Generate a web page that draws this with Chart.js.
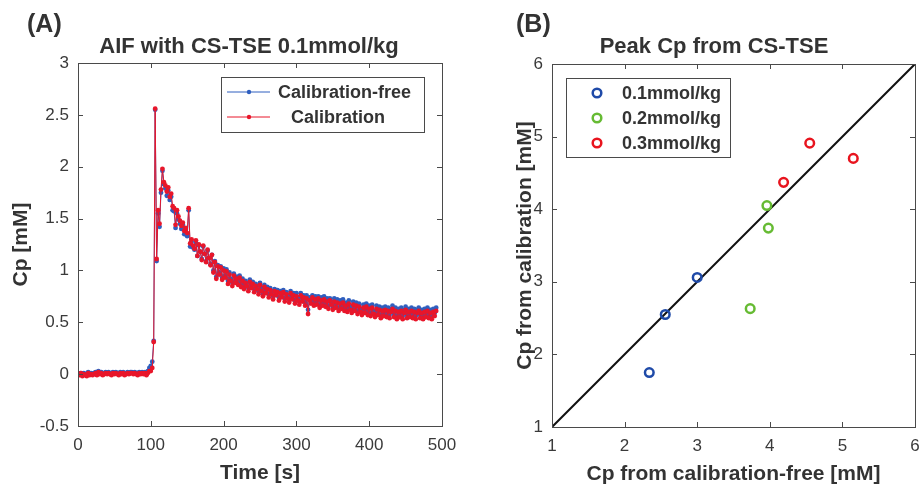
<!DOCTYPE html>
<html><head><meta charset="utf-8">
<script src="https://cdn.jsdelivr.net/npm/chart.js@4"></script>
<style>
html,body{margin:0;padding:0;background:#fff;width:924px;height:495px;overflow:hidden}
canvas{position:absolute;top:0}
#cA{left:0}
#cB{left:470px}
</style></head><body>
<canvas id="cA" width="496" height="495"></canvas>
<canvas id="cB" width="470" height="495"></canvas>
<script>
// ---------- Panel A data (AIF, sampled every 2 s) ----------
const sampleInterval = 2;
const calibration = [
 0.00,-0.01,0.01,-0.02,0.00,-0.01,-0.02,0.01,-0.01,0.00,
 -0.01,0.00,0.01,-0.01,0.02,0.00,0.01,-0.01,0.00,0.01,
 0.00,0.01,0.00,-0.01,0.01,0.00,0.01,0.00,-0.01,0.01,
 0.00,0.01,-0.01,0.00,0.01,0.00,0.01,0.01,0.00,0.01,
 0.00,-0.01,0.01,0.00,0.01,0.00,0.01,-0.01,0.01,0.03,
 0.03,0.06,0.31,2.56,1.11,1.58,1.45,1.78,1.98,1.85,
 1.82,1.76,1.80,1.71,1.74,1.62,1.60,1.44,1.58,1.52,
 1.48,1.43,1.46,1.38,1.41,1.36,1.60,1.26,1.30,1.24,
 1.21,1.29,1.14,1.25,1.18,1.10,1.24,1.16,1.08,1.20,
 1.12,1.05,1.15,0.98,1.08,0.92,1.04,0.96,1.03,0.91,
 1.00,0.93,0.99,0.87,0.96,0.90,0.85,0.95,0.88,0.92,
 0.86,0.93,0.84,0.90,0.82,0.88,0.85,0.80,0.89,0.83,
 0.87,0.79,0.85,0.82,0.77,0.86,0.80,0.75,0.84,0.78,
 0.82,0.74,0.81,0.77,0.72,0.80,0.76,0.79,0.71,0.78,
 0.74,0.79,0.70,0.77,0.73,0.69,0.78,0.72,0.76,0.68,
 0.75,0.71,0.67,0.76,0.70,0.74,0.66,0.73,0.58,0.71,
 0.68,0.74,0.66,0.72,0.67,0.73,0.64,0.71,0.66,0.72,
 0.65,0.70,0.63,0.71,0.67,0.62,0.70,0.64,0.69,0.61,
 0.68,0.63,0.69,0.61,0.66,0.60,0.68,0.62,0.59,0.67,
 0.61,0.66,0.58,0.65,0.60,0.57,0.64,0.59,0.65,0.57,
 0.63,0.56,0.64,0.58,0.55,0.63,0.57,0.62,0.54,0.61,
 0.56,0.62,0.55,0.61,0.54,0.60,0.63,0.55,0.61,0.53,
 0.60,0.55,0.61,0.53,0.59,0.62,0.54,0.60,0.55,0.61,
 0.54,0.60,0.53,0.59,0.61,0.54,0.59,0.53,0.60,0.55,
 0.61,0.54,0.59,0.53,0.60,0.56,0.61
];
const calibrationFree = [
 0.01,0.00,0.01,-0.01,0.01,0.00,-0.01,0.02,0.00,0.01,
 0.00,0.01,0.02,0.00,0.03,0.01,0.02,0.00,0.01,0.02,
 0.01,0.02,0.01,0.00,0.02,0.01,0.02,0.01,0.00,0.02,
 0.01,0.02,0.00,0.01,0.02,0.01,0.02,0.02,0.01,0.02,
 0.01,0.00,0.02,0.01,0.02,0.01,0.02,0.00,0.03,0.06,
 0.08,0.12,0.32,2.55,1.09,1.55,1.42,1.75,1.96,1.83,
 1.79,1.72,1.77,1.68,1.71,1.58,1.57,1.41,1.55,1.49,
 1.45,1.40,1.44,1.35,1.39,1.33,1.58,1.23,1.28,1.22,
 1.20,1.27,1.14,1.24,1.18,1.11,1.23,1.16,1.09,1.19,
 1.12,1.06,1.15,1.00,1.09,0.94,1.05,0.98,1.04,0.93,
 1.02,0.95,1.01,0.90,0.98,0.92,0.88,0.97,0.90,0.94,
 0.89,0.95,0.87,0.92,0.85,0.90,0.88,0.83,0.91,0.86,
 0.89,0.82,0.87,0.85,0.80,0.88,0.83,0.78,0.86,0.81,
 0.84,0.77,0.83,0.80,0.75,0.82,0.79,0.81,0.74,0.80,
 0.77,0.81,0.73,0.79,0.76,0.72,0.80,0.75,0.78,0.71,
 0.78,0.74,0.70,0.78,0.73,0.76,0.69,0.76,0.62,0.74,
 0.71,0.76,0.69,0.75,0.70,0.75,0.67,0.74,0.69,0.75,
 0.68,0.73,0.66,0.73,0.70,0.65,0.73,0.67,0.72,0.64,
 0.71,0.66,0.72,0.64,0.69,0.63,0.71,0.65,0.62,0.70,
 0.64,0.69,0.61,0.68,0.63,0.60,0.67,0.62,0.68,0.60,
 0.66,0.59,0.67,0.61,0.58,0.66,0.60,0.65,0.57,0.64,
 0.59,0.65,0.58,0.64,0.57,0.63,0.66,0.58,0.64,0.56,
 0.63,0.58,0.64,0.56,0.62,0.65,0.57,0.63,0.58,0.64,
 0.57,0.63,0.56,0.62,0.64,0.57,0.62,0.56,0.63,0.58,
 0.64,0.57,0.62,0.56,0.63,0.59,0.64
];
const xTicksA = [0,100,200,300,400,500];
const yTicksA = [-0.5,0,0.5,1,1.5,2,2.5,3];

// ---------- Panel B data (peak Cp) ----------
const dose01Free = [2.34, 2.56, 3.00];
const dose01Cal  = [1.75, 2.55, 3.06];
const dose02Free = [3.96, 3.98, 3.73];
const dose02Cal  = [4.05, 3.74, 2.63];
const dose03Free = [4.19, 4.55, 5.15];
const dose03Cal  = [4.37, 4.91, 4.70];
const identityLine = [1, 6];
const ticksB = [1,2,3,4,5,6];

const FONT = "'Liberation Sans', Arial, Helvetica, sans-serif";
const TXT = '#333333';
const TICKC = '#3a3a3a';
const AXC = '#4a4a4a';
const BLUE = '#2f5fbf';
const RED = '#e8162a';
const C1 = '#1f4aa8', C2 = '#66bb33', C3 = '#e8141e';

const times = calibration.map((_, i) => i * sampleInterval);

const decor = {
  id: 'decor',
  afterDraw(chart, args, o) {
    const ctx = chart.ctx;
    const {left, right, top, bottom} = chart.chartArea;
    ctx.save();
    ctx.strokeStyle = AXC; ctx.lineWidth = 1;
    ctx.strokeRect(Math.round(left)+0.5, Math.round(top)+0.5, Math.round(right-left), Math.round(bottom-top));
    const xs = chart.scales.x, ys = chart.scales.y;
    ctx.beginPath();
    xs.ticks.forEach(t => {
      const px = Math.round(xs.getPixelForValue(t.value)) + 0.5;
      ctx.moveTo(px, bottom); ctx.lineTo(px, bottom - 5);
      ctx.moveTo(px, top); ctx.lineTo(px, top + 5);
    });
    ys.ticks.forEach(t => {
      const py = Math.round(ys.getPixelForValue(t.value)) + 0.5;
      ctx.moveTo(left, py); ctx.lineTo(left + 5, py);
      ctx.moveTo(right, py); ctx.lineTo(right - 5, py);
    });
    ctx.stroke();
    ctx.fillStyle = TXT;
    ctx.textBaseline = 'alphabetic';
    ctx.font = 'bold 25px ' + FONT;
    ctx.textAlign = 'left';
    ctx.fillText(o.letter, o.letterX, 32);
    ctx.font = 'bold 22px ' + FONT;
    ctx.textAlign = 'center';
    ctx.fillText(o.title, o.titleX, 53);
    const L = o.legend;
    ctx.fillStyle = '#fff';
    ctx.fillRect(L.x, L.y, L.w, L.h);
    ctx.strokeStyle = AXC; ctx.lineWidth = 1;
    ctx.strokeRect(L.x + 0.5, L.y + 0.5, L.w, L.h);
    ctx.font = 'bold 18px ' + FONT;
    ctx.textAlign = 'left';
    ctx.textBaseline = 'middle';
    L.items.forEach(it => {
      if (L.kind === 'line') {
        ctx.strokeStyle = it.color; ctx.lineWidth = 1;
        ctx.beginPath(); ctx.moveTo(L.x + 6, it.y); ctx.lineTo(L.x + 49, it.y); ctx.stroke();
        ctx.fillStyle = it.color;
        ctx.beginPath(); ctx.arc(L.x + 28, it.y, 2.2, 0, Math.PI*2); ctx.fill();
      } else {
        ctx.strokeStyle = it.color; ctx.lineWidth = 2.5;
        ctx.beginPath(); ctx.arc(L.x + 31, it.y, 4.3, 0, Math.PI*2); ctx.stroke();
      }
      ctx.fillStyle = TXT;
      ctx.fillText(it.text, it.tx, it.y + 1);
    });
    ctx.restore();
  }
};

function tickOpts() {
  return {font: {family: FONT, size: 17}, color: TICKC, padding: 9, maxRotation: 0, autoSkip: false,
          callback: v => String(v)};
}
function titleOpts(text, pad) {
  return {display: true, text, color: TXT, font: {family: FONT, size: 21, weight: 'bold'}, padding: pad};
}

new Chart(document.getElementById('cA'), {
  type: 'line',
  data: {
    datasets: [
      {label: 'Calibration-free', data: times.map((t, i) => ({x: t, y: calibrationFree[i]})),
       borderColor: BLUE, backgroundColor: BLUE, pointBackgroundColor: BLUE, borderWidth: 1,
       pointRadius: 2.4, pointBorderWidth: 0, tension: 0, order: 2},
      {label: 'Calibration', data: times.map((t, i) => ({x: t, y: calibration[i]})),
       borderColor: RED, backgroundColor: RED, pointBackgroundColor: RED, borderWidth: 1,
       pointRadius: 2.4, pointBorderWidth: 0, tension: 0, order: 1}
    ]
  },
  options: {
    responsive: false, animation: false, devicePixelRatio: 1,
    layout: {padding: {top: 63, right: 54, left: 0, bottom: 0}},
    plugins: {
      legend: {display: false}, tooltip: {enabled: false},
      decor: {letter: '(A)', letterX: 27, title: 'AIF with CS-TSE 0.1mmol/kg', titleX: 249,
        legend: {kind: 'line', x: 221, y: 77, w: 203, h: 55, items: [
          {text: 'Calibration-free', color: BLUE, y: 92, tx: 278},
          {text: 'Calibration', color: RED, y: 117, tx: 291}
        ]}}
    },
    scales: {
      x: {type: 'linear', min: 0, max: 500,
          afterBuildTicks: s => { s.ticks = xTicksA.map(v => ({value: v})); },
          ticks: tickOpts(), grid: {display: false, drawTicks: false}, border: {display: false},
          title: titleOpts('Time [s]', {top: 0, bottom: 9}),
          afterFit: s => { s.height = 69; }},
      y: {type: 'linear', min: -0.5, max: 3,
          afterBuildTicks: s => { s.ticks = yTicksA.map(v => ({value: v})); },
          ticks: tickOpts(), grid: {display: false, drawTicks: false}, border: {display: false},
          title: titleOpts('Cp [mM]', {top: 9, bottom: 0}),
          afterFit: s => { s.width = 78; }}
    }
  },
  plugins: [decor]
});

function scatterSet(label, xs, ys, color) {
  return {type: 'scatter', label, data: xs.map((v, i) => ({x: v, y: ys[i]})),
    borderColor: color, backgroundColor: 'rgba(0,0,0,0)', pointBorderColor: color,
    pointBackgroundColor: 'rgba(0,0,0,0)', pointRadius: 4.3, pointBorderWidth: 2.5, showLine: false};
}

new Chart(document.getElementById('cB'), {
  type: 'scatter',
  data: {
    datasets: [
      {type: 'line', label: 'identity', data: identityLine.map(v => ({x: v, y: v})),
       borderColor: '#111111', borderWidth: 2, pointRadius: 0, tension: 0, order: 5},
      scatterSet('0.1mmol/kg', dose01Free, dose01Cal, C1),
      scatterSet('0.2mmol/kg', dose02Free, dose02Cal, C2),
      scatterSet('0.3mmol/kg', dose03Free, dose03Cal, C3)
    ]
  },
  options: {
    responsive: false, animation: false, devicePixelRatio: 1,
    layout: {padding: {top: 64, right: 25, left: 0, bottom: 0}},
    plugins: {
      legend: {display: false}, tooltip: {enabled: false},
      decor: {letter: '(B)', letterX: 46, title: 'Peak Cp from CS-TSE', titleX: 244,
        legend: {kind: 'circle', x: 96, y: 78, w: 164, h: 79, items: [
          {text: '0.1mmol/kg', color: C1, y: 93, tx: 152},
          {text: '0.2mmol/kg', color: C2, y: 118, tx: 152},
          {text: '0.3mmol/kg', color: C3, y: 143, tx: 152}
        ]}}
    },
    scales: {
      x: {type: 'linear', min: 1, max: 6,
          afterBuildTicks: s => { s.ticks = ticksB.map(v => ({value: v})); },
          ticks: tickOpts(), grid: {display: false, drawTicks: false}, border: {display: false},
          title: titleOpts('Cp from calibration-free [mM]', {top: 0, bottom: 8}),
          afterFit: s => { s.height = 68; }},
      y: {type: 'linear', min: 1, max: 6,
          afterBuildTicks: s => { s.ticks = ticksB.map(v => ({value: v})); },
          ticks: tickOpts(), grid: {display: false, drawTicks: false}, border: {display: false},
          title: titleOpts('Cp from calibration [mM]', {top: 43, bottom: 0}),
          afterFit: s => { s.width = 82; }}
    }
  },
  plugins: [decor]
});
</script>
</body></html>
